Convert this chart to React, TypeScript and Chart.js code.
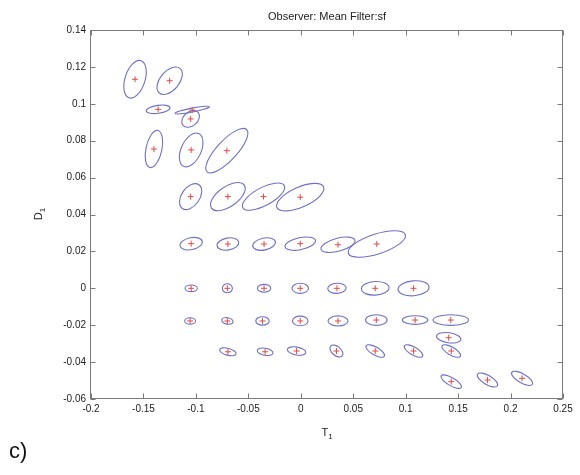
import React, { useEffect, useRef } from 'react';
import { Chart, registerables } from 'chart.js';

Chart.register(...registerables);

// Ellipse centres (T1, D1)
const centerT = [
  -0.158, -0.125, -0.136, -0.1035, -0.105, -0.14, -0.1045, -0.0705,
  -0.105, -0.0695, -0.0355, -0.0005,
  -0.1045, -0.0695, -0.035, -0.0005, 0.0355, 0.0725,
  -0.1045, -0.07, -0.035, -0.0005, 0.0345, 0.071, 0.1075,
  -0.1055, -0.07, -0.0365, -0.0005, 0.0355, 0.072, 0.109, 0.143, 0.141,
  -0.0695, -0.034, -0.004, 0.034, 0.071, 0.1075, 0.1435,
  0.1435, 0.178, 0.211,
];
const centerD = [
  0.1133, 0.1125, 0.097, 0.0966, 0.0918, 0.0755, 0.075, 0.0746,
  0.0497, 0.0497, 0.0497, 0.0494,
  0.0242, 0.024, 0.024, 0.0242, 0.0236, 0.024,
  0.0, 0.0, 0.0, 0.0, 0.0, 0.0, 0.0,
  -0.0177, -0.0177, -0.0177, -0.0177, -0.0177, -0.0172, -0.0172, -0.0172, -0.0268,
  -0.0344, -0.0344, -0.034, -0.034, -0.034, -0.034, -0.034,
  -0.0506, -0.0497, -0.0488,
];
// Semi-axes, in T1 units
const semiMajor = [
  0.0186, 0.0153, 0.0114, 0.0167, 0.0095, 0.0181, 0.0172, 0.0276,
  0.0138, 0.0191, 0.0224, 0.0243,
  0.0108, 0.0105, 0.011, 0.0148, 0.0167, 0.0286,
  0.0059, 0.0048, 0.0064, 0.0079, 0.0088, 0.0132, 0.0148,
  0.0052, 0.0055, 0.0064, 0.0074, 0.0095, 0.0103, 0.0122, 0.0169, 0.0117,
  0.0081, 0.0076, 0.0089, 0.0072, 0.01, 0.01, 0.01,
  0.011, 0.011, 0.0114,
];
const semiMinor = [
  0.0095, 0.0091, 0.0038, 0.0019, 0.0067, 0.0076, 0.0095, 0.0095,
  0.0086, 0.0095, 0.0086, 0.0095,
  0.0057, 0.0057, 0.0057, 0.0057, 0.0062, 0.0095,
  0.0032, 0.0043, 0.0037, 0.0048, 0.0048, 0.0065, 0.0071,
  0.0031, 0.0031, 0.004, 0.0046, 0.0048, 0.0051, 0.0041, 0.0051, 0.0048,
  0.0033, 0.0034, 0.0038, 0.0043, 0.0038, 0.0038, 0.0038,
  0.0038, 0.0043, 0.0043,
];
// Tilt of the major axis, degrees (counter-clockwise as seen)
const tiltDeg = [
  72, 50, 8, 11, 40, 78, 65, 47,
  55, 35, 28, 24,
  12, 10, 12, 12, 15, 18,
  0, 0, 0, 0, 3, 3, 5,
  0, -10, 0, 0, 0, 0, 0, 0, -8,
  -15, -10, -10, -40, -30, -30, -30,
  -30, -30, -30,
];

const xTickLabels = ['-0.2', '-0.15', '-0.1', '-0.05', '0', '0.05', '0.1', '0.15', '0.2', '0.25'];
const yTickLabels = ['-0.06', '-0.04', '-0.02', '0', '0.02', '0.04', '0.06', '0.08', '0.1', '0.12', '0.14'];
const chartTitle = 'Observer: Mean Filter:sf';
const xTitle = ['T', '1'];
const yTitle = ['D', '1'];
const caption = 'c)';

const FONT = '"Liberation Sans", Arial, sans-serif';

const findLabel = (labels: string[], v: number) =>
  labels.find((l) => Math.abs(parseFloat(l) - v) < 1e-9) ?? '';

const decorPlugin = {
  id: 'decor',
  beforeDatasetsDraw(chart: any) {
    const { ctx, scales } = chart;
    const x = scales.x;
    const y = scales.y;
    ctx.save();
    ctx.strokeStyle = '#6f70c4';
    ctx.lineWidth = 1.1;
    centerT.forEach((t, i) => {
      const px = x.getPixelForValue(t);
      const py = y.getPixelForValue(centerD[i]);
      const a = Math.abs(x.getPixelForValue(t + semiMajor[i]) - px);
      const b = Math.abs(x.getPixelForValue(t + semiMinor[i]) - px);
      ctx.beginPath();
      ctx.ellipse(px, py, a, b, (-tiltDeg[i] * Math.PI) / 180, 0, Math.PI * 2);
      ctx.stroke();
    });
    ctx.restore();
  },
  afterDraw(chart: any) {
    const { ctx, chartArea, scales } = chart;
    const { left, right, top, bottom } = chartArea;
    const x = scales.x;
    const y = scales.y;
    ctx.save();
    ctx.strokeStyle = '#7a7a7a';
    ctx.lineWidth = 1;
    const L = Math.round(left) - 0.5;
    const R = Math.round(right) - 0.5;
    const T = Math.round(top) + 0.5;
    const B = Math.round(bottom) - 0.5;
    ctx.strokeRect(L, T, R - L, B - T);
    const tl = 5;
    ctx.beginPath();
    x.ticks.forEach((tk: any) => {
      const px = Math.round(x.getPixelForValue(tk.value)) + 0.5;
      ctx.moveTo(px, B);
      ctx.lineTo(px, B - tl);
      ctx.moveTo(px, T);
      ctx.lineTo(px, T + tl);
    });
    y.ticks.forEach((tk: any) => {
      const py = Math.round(y.getPixelForValue(tk.value)) + 0.5;
      ctx.moveTo(L, py);
      ctx.lineTo(L + tl, py);
      ctx.moveTo(R, py);
      ctx.lineTo(R - tl, py);
    });
    ctx.stroke();

    ctx.fillStyle = '#222';
    // title
    ctx.font = `11px ${FONT}`;
    ctx.textAlign = 'center';
    ctx.textBaseline = 'alphabetic';
    ctx.fillText(chartTitle, (left + right) / 2, 20);

    // x title T1
    const cx = (left + right) / 2;
    ctx.font = `11px ${FONT}`;
    const wT = ctx.measureText(xTitle[0]).width;
    ctx.font = `8px ${FONT}`;
    const w1 = ctx.measureText(xTitle[1]).width;
    const startX = cx - (wT + w1) / 2;
    ctx.textAlign = 'left';
    ctx.font = `11px ${FONT}`;
    ctx.fillText(xTitle[0], startX, 436);
    ctx.font = `8px ${FONT}`;
    ctx.fillText(xTitle[1], startX + wT, 439);

    // y title D1
    ctx.save();
    ctx.translate(42, 214);
    ctx.rotate(-Math.PI / 2);
    ctx.font = `11px ${FONT}`;
    const wD = ctx.measureText(yTitle[0]).width;
    ctx.font = `8px ${FONT}`;
    const w1y = ctx.measureText(yTitle[1]).width;
    const sx = -(wD + w1y) / 2;
    ctx.font = `11px ${FONT}`;
    ctx.fillText(yTitle[0], sx, 0);
    ctx.font = `8px ${FONT}`;
    ctx.fillText(yTitle[1], sx + wD, 3);
    ctx.restore();

    // caption
    ctx.fillStyle = '#111';
    ctx.font = `22px ${FONT}`;
    ctx.textAlign = 'left';
    ctx.fillText(caption, 9, 458);
    ctx.restore();
  },
};

export default function App() {
  const ref = useRef<HTMLCanvasElement | null>(null);
  useEffect(() => {
    if (!ref.current) return;
    const chart = new Chart(ref.current, {
      type: 'scatter',
      data: {
        datasets: [
          {
            data: centerT.map((t, i) => ({ x: t, y: centerD[i] })),
            pointStyle: 'cross',
            pointRadius: 3,
            pointHoverRadius: 3,
            borderColor: '#e04a4a',
            backgroundColor: '#e04a4a',
            borderWidth: 1,
          },
        ],
      },
      options: {
        responsive: false,
        animation: false,
        devicePixelRatio: 1,
        layout: { padding: { top: 30, right: 17, bottom: 0, left: 0 }, autoPadding: false },
        plugins: { legend: { display: false }, tooltip: { enabled: false }, title: { display: false } },
        scales: {
          x: {
            type: 'linear',
            min: -0.2,
            max: 0.25,
            grid: { display: false, drawTicks: false },
            border: { display: false },
            ticks: {
              stepSize: 0.05,
              autoSkip: false,
              maxRotation: 0,
              minRotation: 0,
              padding: 4,
              color: '#222',
              font: { family: FONT, size: 10 },
              callback: (v: any) => findLabel(xTickLabels, Number(v)),
            },
            afterFit: (s: any) => {
              s.height = 76;
            },
          },
          y: {
            type: 'linear',
            min: -0.06,
            max: 0.14,
            grid: { display: false, drawTicks: false },
            border: { display: false },
            ticks: {
              stepSize: 0.02,
              autoSkip: false,
              padding: 5,
              color: '#222',
              font: { family: FONT, size: 10 },
              callback: (v: any) => findLabel(yTickLabels, Number(v)),
            },
            afterFit: (s: any) => {
              s.width = 91;
            },
          },
        },
      },
      plugins: [decorPlugin],
    } as any);
    return () => chart.destroy();
  }, []);
  return (
    <div style={{ position: 'absolute', left: 0, top: 0, width: 580, height: 475, background: '#fff' }}>
      <canvas ref={ref} width={580} height={475} style={{ display: 'block' }} />
    </div>
  );
}
